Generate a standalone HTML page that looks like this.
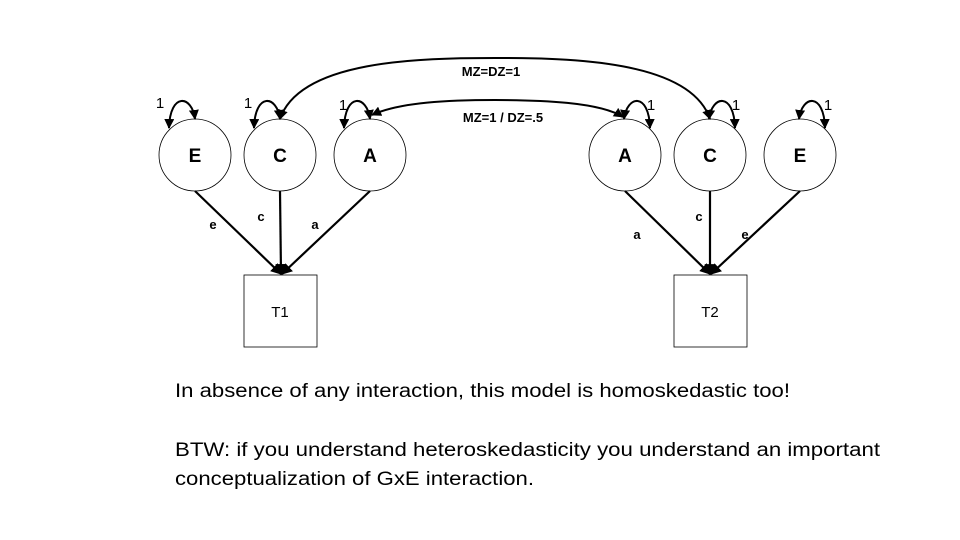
<!DOCTYPE html>
<html><head><meta charset="utf-8"><style>
html,body{margin:0;padding:0;background:#fff;}
svg{display:block;font-family:"Liberation Sans",sans-serif;}
</style></head><body>
<svg width="960" height="540" viewBox="0 0 960 540" xmlns="http://www.w3.org/2000/svg">
<defs>
<marker id="ah" viewBox="0 0 10 10" refX="9" refY="5" markerWidth="5" markerHeight="5" orient="auto-start-reverse">
<path d="M0,0 L10,5 L0,10 z" fill="#000"/></marker>
</defs>
<rect width="960" height="540" fill="#fff"/>
<g fill="none" stroke="#000" stroke-width="0.8">
<circle cx="195" cy="155" r="36"/><circle cx="280" cy="155" r="36"/><circle cx="370" cy="155" r="36"/>
<circle cx="625" cy="155" r="36"/><circle cx="710" cy="155" r="36"/><circle cx="800" cy="155" r="36"/>
<rect x="244" y="275" width="73" height="72"/><rect x="674" y="275" width="73" height="72"/>
</g>
<g fill="none" stroke="#000" stroke-width="2.2" marker-end="url(#ah)">
<line x1="195" y1="191" x2="281" y2="274"/><line x1="280" y1="191" x2="281" y2="274"/><line x1="370" y1="191" x2="282" y2="274"/>
<line x1="625" y1="191" x2="710" y2="274"/><line x1="710" y1="191" x2="710" y2="274"/><line x1="800" y1="191" x2="711" y2="274"/>
</g>
<g fill="none" stroke="#000" stroke-width="2" marker-start="url(#ah)" marker-end="url(#ah)">
<path d="M169,128 C170,92 192,95 195,119"/>
<path d="M254,128 C255,92 277,95 280,119"/>
<path d="M344,128 C345,92 367,95 370,119"/>
<path d="M624,119 C627,95 649,92 650,128"/>
<path d="M709,119 C712,95 734,92 735,128"/>
<path d="M799,119 C802,95 824,92 825,128"/>
<path d="M280,119 C300,60 420,58 495,58 C570,58 690,60 710,119"/>
<path d="M372,115 C400,102 450,100 495,100 C540,100 600,102 623,117"/>
</g>
<g font-size="15" text-anchor="middle">
<text x="160" y="108">1</text><text x="248" y="108">1</text><text x="343" y="110">1</text>
<text x="651" y="110">1</text><text x="736" y="110">1</text><text x="828" y="110">1</text>
</g>
<g font-size="13" font-weight="bold" text-anchor="middle">
<text x="491" y="76">MZ=DZ=1</text><text x="503" y="122">MZ=1 / DZ=.5</text>
<text x="213" y="229">e</text><text x="261" y="221">c</text><text x="315" y="229">a</text>
<text x="637" y="239">a</text><text x="699" y="221">c</text><text x="745" y="239">e</text>
</g>
<g font-size="19" font-weight="bold" text-anchor="middle">
<text x="195" y="162">E</text><text x="280" y="162">C</text><text x="370" y="162">A</text>
<text x="625" y="162">A</text><text x="710" y="162">C</text><text x="800" y="162">E</text>
</g>
<g font-size="15" text-anchor="middle">
<text x="280" y="317">T1</text><text x="710" y="317">T2</text>
</g>
<g font-size="19">
<text x="175" y="397" textLength="615" lengthAdjust="spacingAndGlyphs">In absence of any interaction, this model is homoskedastic too!</text>
<text x="175" y="456" textLength="705" lengthAdjust="spacingAndGlyphs">BTW: if you understand heteroskedasticity you understand an important</text>
<text x="175" y="485" textLength="359" lengthAdjust="spacingAndGlyphs">conceptualization of GxE interaction.</text>
</g>
</svg>
</body></html>
